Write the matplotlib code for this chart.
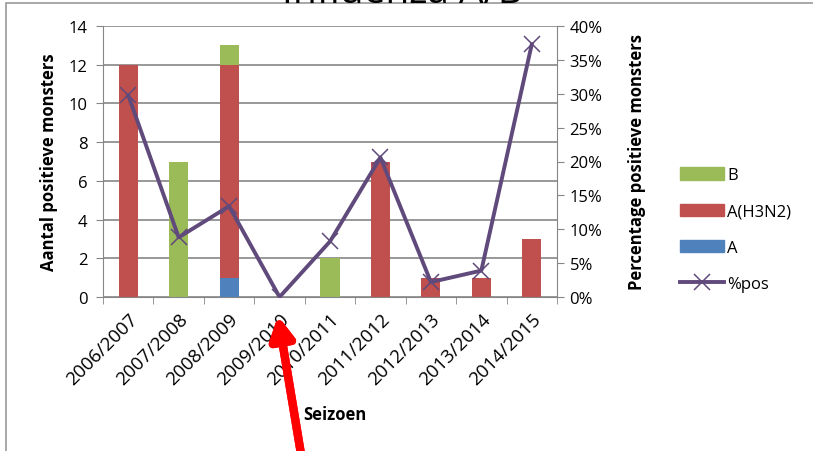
import numpy as np
import matplotlib.pyplot as plt
from matplotlib.patches import Rectangle
from matplotlib.lines import Line2D

seasons = ['2006/2007', '2007/2008', '2008/2009', '2009/2010', '2010/2011',
           '2011/2012', '2012/2013', '2013/2014', '2014/2015']
type_a = [0, 0, 1, 0, 0, 0, 0, 0, 0]
type_h3n2 = [12, 0, 11, 0, 0, 7, 1, 1, 3]
type_b = [0, 7, 1, 0, 2, 0, 0, 0, 0]
pct_pos = [0.298, 0.088, 0.134, 0.0, 0.082, 0.206, 0.022, 0.039, 0.373]

RED = '#C0504D'
GREEN = '#9BBB59'
BLUE = '#4F81BD'
PURPLE = '#604A7B'
GRID = '#868686'

plt.rcParams['font.family'] = ['Open Sans', 'DejaVu Sans']

W, H = 813, 452
fig = plt.figure(figsize=(W / 100, H / 100), dpi=100)

# outer chart frame (runs off the right and bottom edge)
fig.patches.append(Rectangle((6 / W, -0.05), 1.0, 1 - 4 / H + 0.05, transform=fig.transFigure,
                             fill=False, edgecolor='#9a9a9a', lw=1.2))
fig.text(402 / W, 1 - 3 / H, 'Influenza A/B', ha='center', va='baseline', fontsize=28)

ax = fig.add_axes([103 / W, 1 - 298 / H, 454 / W, 271 / H])
x = np.arange(len(seasons))
bw = 0.38
a = np.array(type_a)
h3 = np.array(type_h3n2)
b = np.array(type_b)
ax.bar(x, a, bw, color=BLUE, zorder=2)
ax.bar(x, h3, bw, bottom=a, color=RED, zorder=2)
ax.bar(x, b, bw, bottom=a + h3, color=GREEN, zorder=2)

ax.set_xlim(-0.5, len(seasons) - 0.5)
ax.set_ylim(0, 14)
ax.set_yticks(range(0, 15, 2))
ax.yaxis.grid(True, color=GRID, lw=1.2, zorder=0)
ax.set_axisbelow(True)
ax.set_xticks(x)
ax.set_xticklabels(seasons, rotation=45, ha='right', rotation_mode='anchor', fontsize=13.5)
ax.set_xticks(np.arange(-0.5, len(seasons)), minor=True)
ax.tick_params(axis='x', which='major', length=0, pad=9)
ax.tick_params(axis='x', which='minor', length=5, color=GRID)
ax.tick_params(axis='y', length=5, color=GRID, labelsize=12, pad=6)
for side in ['top', 'right']:
    ax.spines[side].set_visible(False)
for side in ['left', 'bottom']:
    ax.spines[side].set_color(GRID)
ax.set_ylabel('Aantal positieve monsters', fontsize=12, fontweight='bold', labelpad=8)
ax.set_xlabel('Seizoen', fontsize=12, fontweight='bold')
ax.xaxis.set_label_coords(0.51, -0.40)

ax2 = ax.twinx()
ax2.plot(x, pct_pos, color=PURPLE, lw=2.8, marker='x', markersize=11,
         markeredgewidth=1.1, zorder=3)
ax2.set_ylim(0, 0.4)
ax2.set_yticks(np.arange(0, 0.41, 0.05))
ax2.set_yticklabels([f'{int(round(v * 100))}%' for v in np.arange(0, 0.41, 0.05)])
ax2.tick_params(axis='y', length=5, color=GRID, labelsize=12, pad=4)
for side in ['top', 'left', 'bottom']:
    ax2.spines[side].set_visible(False)
ax2.spines['right'].set_color(GRID)
ax2.set_ylabel('Percentage positieve monsters', fontsize=12, fontweight='bold', labelpad=18)

handles = [Rectangle((0, 0), 1, 1, color=GREEN),
           Rectangle((0, 0), 1, 1, color=RED),
           Rectangle((0, 0), 1, 1, color=BLUE),
           Line2D([], [], color=PURPLE, lw=2.8, marker='x', markersize=11, markeredgewidth=1.1)]
fig.legend(handles, ['B', 'A(H3N2)', 'A', '%pos'], loc='upper left',
           bbox_to_anchor=(672 / W, 1 - 160 / H), frameon=False, fontsize=12,
           handlelength=2.6, handleheight=0.8, labelspacing=1.2, handletextpad=0.2,
           borderpad=0)

# red arrow pointing at the empty season
fig.add_artist(plt.annotate('', xy=(278 / W, 1 - 317 / H), xytext=(302 / W, -0.02),
                            xycoords='figure fraction', textcoords='figure fraction',
                            arrowprops=dict(arrowstyle='-|>,head_length=1.3,head_width=0.7',
                                            color='#FF0000', lw=6, shrinkA=0, shrinkB=0)))

fig.savefig('out.png', dpi=100)
